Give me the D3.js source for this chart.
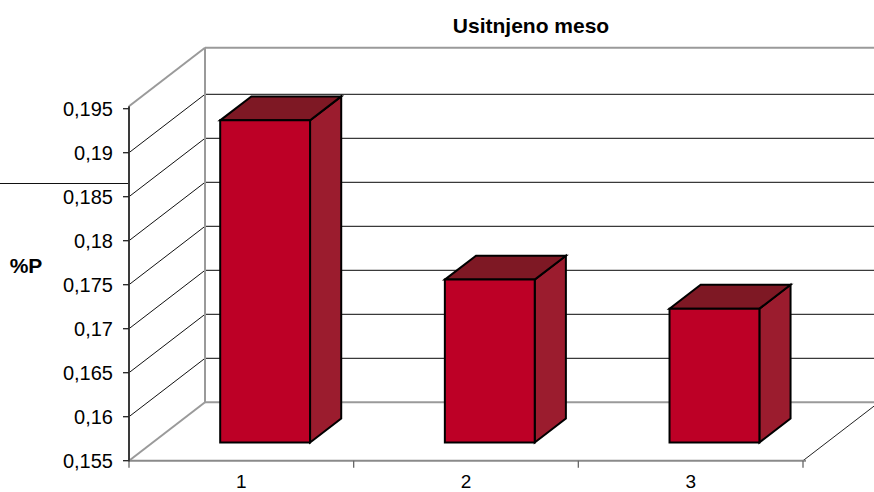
<!DOCTYPE html>
<html>
<head>
<meta charset="utf-8">
<script src="https://cdn.jsdelivr.net/npm/d3@7"></script>
<style>
  html, body { margin: 0; padding: 0; background: #fff; }
  svg { display: block; font-family: "Liberation Sans", Arial, sans-serif; }
</style>
</head>
<body>
<svg id="chart" width="874" height="492"></svg>
<script>
// Chart data
const title = "Usitnjeno meso";
const axisLabel = "%P";
const categories = ["1", "2", "3"];
const values = [0.1916, 0.1735, 0.1702];
const tickValues = [0.155, 0.16, 0.165, 0.17, 0.175, 0.18, 0.185, 0.19, 0.195];
const tickLabels = ["0,155", "0,16", "0,165", "0,17", "0,175", "0,18", "0,185", "0,19", "0,195"];

const svg = d3.select("#chart");
const W = 874, H = 492;

// Front plane of the 3D box
const x0 = 129, x1 = 803;
const y = d3.scaleLinear().domain([0.155, 0.195]).range([460.7, 108.7]);
const x = d3.scaleBand().domain(categories).range([x0, x1])
  .paddingInner(0.6).paddingOuter(0.3);

// Depth vector (front -> back)
const DX = 76, DY = -58.4;
const P = (px, v, d) => [px + d * DX, y(v) + d * DY];

const yMin = y.domain()[0], yMax = y.domain()[1];
const topY = y(yMax) - 2.5;           // wall top sits just above the last tick
const topV = y.invert(topY);

const line = (a, b, stroke, w) => svg.append("line")
  .attr("x1", a[0]).attr("y1", a[1]).attr("x2", b[0]).attr("y2", b[1])
  .attr("stroke", stroke).attr("stroke-width", w);

const wallGray = "#9a9a9a";

// Back wall gridlines
tickValues.slice(1, -1).forEach(v => {
  const a = P(x0, v, 1);
  line(a, [W, a[1]], "#3a3a3a", 1.2);
});

// Left wall gridlines (diagonals)
tickValues.slice(1, -1).forEach(v => line(P(x0, v, 0), P(x0, v, 1), "#111", 1));

// Wall frame
line(P(x0, topV, 0), P(x0, topV, 1), wallGray, 2);            // left wall top
line(P(x0, topV, 1), [W, y(topV) + DY], wallGray, 2);          // back wall top
line(P(x0, topV, 1), P(x0, yMin, 1), wallGray, 2);            // back vertical edge
line(P(x0, yMin, 0), P(x0, yMin, 1), wallGray, 2);            // floor left edge
line(P(x0, yMin, 1), [W, y(yMin) + DY], wallGray, 2);          // floor back edge
line(P(x1, yMin, 0), P(x1, yMin, 1), "#222", 1);              // floor right edge
line([x0, y(yMin)], [x1 + 3, y(yMin)], "#8a8a8a", 2);           // floor front edge

// Front value axis
line([x0, topY], [x0, y(yMin) + 1], "#3a3a3a", 2);

// Value ticks and labels
tickValues.forEach((v, i) => {
  line([x0 - 6, y(v)], [x0, y(v)], "#222", 1.3);
  svg.append("text")
    .attr("x", 113).attr("y", y(v))
    .attr("dy", "0.35em")
    .attr("text-anchor", "end")
    .attr("font-size", 20)
    .attr("fill", "#000")
    .text(tickLabels[i]);
});

// Category ticks along the floor front edge
const step = x.step();
d3.range(categories.length + 1).forEach(k => {
  const px = x0 + k * step;
  line([px, y(yMin)], [px, y(yMin) + 7], "#666", 1.3);
});
categories.forEach(c => {
  svg.append("text")
    .attr("x", x(c) + x.bandwidth() / 2).attr("y", 488)
    .attr("text-anchor", "middle")
    .attr("font-size", 19)
    .attr("fill", "#000")
    .text(c);
});

// 3D bars
const d0 = 0.313, d1 = 0.723;
const front = "#bd0026", topC = "#7e1824", side = "#9b1c2e";
const bars = svg.append("g");
categories.forEach((c, i) => {
  const v = values[i];
  const xl = x(c), xr = x(c) + x.bandwidth();
  const fbl = P(xl, yMin, d0), fbr = P(xr, yMin, d0);
  const ftl = P(xl, v, d0), ftr = P(xr, v, d0);
  const btl = P(xl, v, d1), btr = P(xr, v, d1), bbr = P(xr, yMin, d1);
  const g = bars.append("g")
    .attr("stroke", "#000").attr("stroke-width", 2).attr("stroke-linejoin", "miter");
  g.append("polygon").attr("points", [ftr, fbr, bbr, btr].join(" ")).attr("fill", side);
  g.append("polygon").attr("points", [ftl, ftr, btr, btl].join(" ")).attr("fill", topC);
  g.append("polygon").attr("points", [ftl, ftr, fbr, fbl].join(" ")).attr("fill", front);
});

// Title
svg.append("text")
  .attr("x", 531).attr("y", 32.5)
  .attr("text-anchor", "middle")
  .attr("font-size", 21)
  .attr("font-weight", "bold")
  .text(title);

// Axis title
svg.append("text")
  .attr("x", 26).attr("y", 266)
  .attr("dy", "0.35em")
  .attr("text-anchor", "middle")
  .attr("font-size", 21)
  .attr("font-weight", "bold")
  .text(axisLabel);

// Short rule at the left edge
line([0, 183.5], [x0 - 1, 183.5], "#111", 1.2);
</script>
</body>
</html>
